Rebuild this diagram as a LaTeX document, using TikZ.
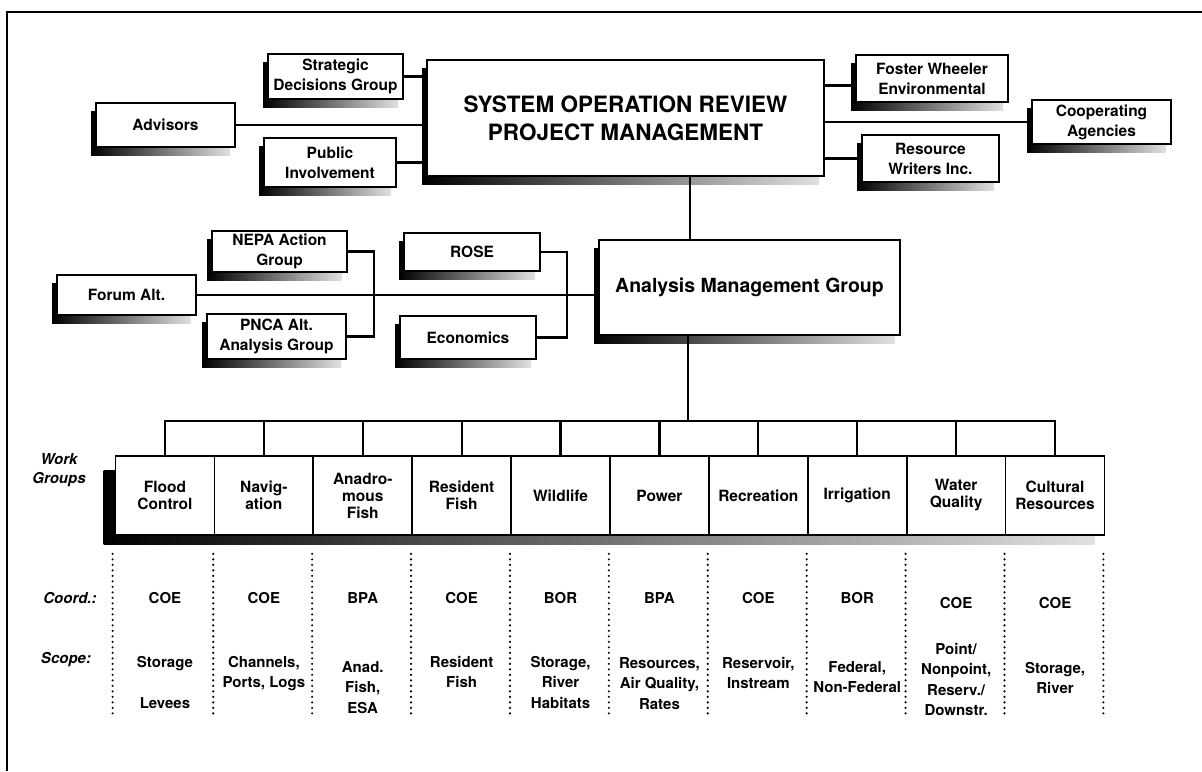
\documentclass[tikz,border=0pt]{standalone}
\usepackage{fontspec}
\setmainfont{TeX Gyre Heros}
\usetikzlibrary{shadows,backgrounds}
\newcommand{\fsz}[2]{\fontsize{#1}{#2}\selectfont}

\begin{document}
\begin{tikzpicture}[x=1pt, y=-1pt,
  box/.style={draw, line width=1.7pt, fill=white, align=center, inner sep=2pt,
    font=\bfseries\fsz{15.5}{20},
    general shadow={shadow xshift=-5pt, shadow yshift=-8pt, left color=black, right color=black!12}},
  wgbox/.style={draw, line width=1.7pt, fill=white, align=center, minimum width=98.9pt,
    minimum height=79pt, inner sep=0pt, font=\bfseries\fsz{15.5}{17}},
  link/.style={line width=2.2pt},
  dots/.style={line width=2.4pt, line cap=round, dash pattern=on 0pt off 5.5pt},
  tag/.style={font=\bfseries\itshape\fsz{15}{19}, align=center},
  entry/.style={font=\bfseries\fsz{15}{20.5}, align=center, inner sep=0pt}]
\useasboundingbox (0,0) rectangle (1202,771);
\draw[line width=2pt] (7,771) -- (7,12) -- (1202,12);

% top level
\node[box, minimum width=397pt, minimum height=116pt, font=\bfseries\fsz{22.5}{28}] (sorpm) at (625.5,118) {SYSTEM OPERATION REVIEW\\PROJECT MANAGEMENT};
\node[box, minimum width=135pt, minimum height=45pt] (sdg) at (335.5,76.5) {Strategic\\Decisions Group};
\node[box, minimum width=139pt, minimum height=44pt] (adv) at (165.5,125) {Advisors};
\node[box, minimum width=132pt, minimum height=49pt] (pubinv) at (330,162.5) {Public\\Involvement};
\node[box, minimum width=152pt, minimum height=47pt] (fwe) at (932,78.5) {Foster Wheeler\\Environmental};
\node[box, minimum width=139pt, minimum height=44pt] (coop) at (1101.5,122) {Cooperating\\Agencies};
\node[box, minimum width=137pt, minimum height=47pt] (rwi) at (930.5,158.5) {Resource\\Writers Inc.};

\draw[link] (sdg.east) -- (sdg.east -| sorpm.west);
\draw[link] (adv.east) -- (adv.east -| sorpm.west);
\draw[link] (pubinv.east) -- (pubinv.east -| sorpm.west);
\draw[link] ([yshift=-7pt]fwe.west) -- ([yshift=-7pt]fwe.west -| sorpm.east);
\draw[link] (coop.west) -- (coop.west -| sorpm.east);
\draw[link] (rwi.west) -- (rwi.west -| sorpm.east);

% analysis level
\node[box, minimum width=301pt, minimum height=95pt, font=\bfseries\fsz{19.5}{24}] (amg) at (749.5,287.5) {Analysis Management Group};
\node[box, minimum width=135pt, minimum height=41pt] (nepa) at (279.5,251.5) {NEPA Action\\Group};
\node[box, minimum width=139pt, minimum height=40pt] (forum) at (126.5,295) {Forum Alt.};
\node[box, minimum width=139pt, minimum height=45pt] (pnca) at (276.5,336.5) {PNCA Alt.\\Analysis Group};
\node[box, minimum width=136pt, minimum height=38pt] (rose) at (472,252) {ROSE};
\node[box, minimum width=136pt, minimum height=43pt] (econ) at (468,337.5) {Economics};

\draw[link] ([xshift=-59.5pt]amg.north) -- ([xshift=-59.5pt]amg.north |- sorpm.south);
\draw[link] (forum.east) -- (forum.east -| amg.west);
\draw[link] (nepa.east) -- ++(26,0) |- (pnca.east);
\draw[link] (rose.east) -- ++(26,0) |- (econ.east);

% work groups
\foreach \name [count=\i] in {{Flood\\Control}, {Navig-\\ation}, {Anadro-\\mous\\Fish},
    {Resident\\Fish}, {Wildlife}, {Power}, {Recreation}, {Irrigation}, {Water\\Quality},
    {Cultural\\Resources}}
  \node[wgbox] (wg\i) at ({66.05+98.9*\i},495.5) {\name};
\begin{scope}[on background layer]
\shade[left color=black, right color=black!12] ([shift={(-11,15)}]wg1.north west) rectangle ([shift={(-11,9)}]wg10.south east);
\end{scope}

\coordinate (bus) at (0,421);
\draw[link] ([xshift=-61.5pt]amg.south) -- ([xshift=-61.5pt]amg.south |- bus);
\draw[link] (wg1.north) -- (wg1.north |- bus) -- (wg10.north |- bus) -- (wg10.north);
\foreach \i in {2,...,9}
  \draw[link] (wg\i.north) -- (wg\i.north |- bus);

\node[tag] (wglbl) at (59,470.5) {Work\\Groups};
\node[tag] (coordlbl) at (70,598) {Coord.:};
\node[tag] (scopelbl) at (66,660) {Scope:};

% separators
\draw[dots] ([shift={(-2,18)}]wg1.south west) -- ++(0,164);
\foreach \i in {1,...,10}
  \draw[dots] ([shift={(-2,18)}]wg\i.south east) -- ++(0,164);

% coordinators and scope
\foreach \ag/\yy [count=\i] in {COE/598, COE/598, BPA/598, COE/598, BOR/598,
    BPA/598, COE/598, BOR/598, COE/603, COE/603}
  \node[entry] (co\i) at ({66.05+98.9*\i},\yy) {\ag};
\foreach \txt/\yy [count=\i] in {{Storage\\[20.5pt]Levees}/656, {Channels,\\Ports, Logs}/656,
    {Anad.\\Fish,\\ESA}/661, {Resident\\Fish}/656, {Storage,\\River\\Habitats}/656,
    {Resources,\\Air Quality,\\Rates}/657, {Reservoir,\\Instream}/657, {Federal,\\Non-Federal}/661,
    {Point/\\Nonpoint,\\Reserv./\\Downstr.}/643, {Storage,\\River}/662}
  \node[entry, anchor=north] (sc\i) at ({66.05+98.9*\i},\yy) {\txt};
\end{tikzpicture}
\end{document}
